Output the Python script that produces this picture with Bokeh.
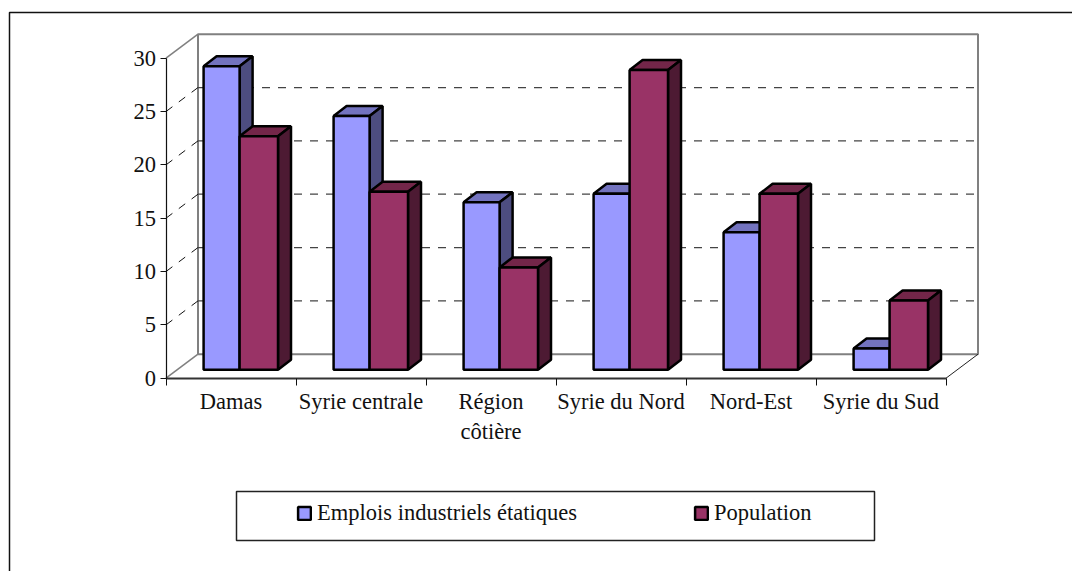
from bokeh.plotting import figure
from bokeh.models import (BoxAnnotation, ColumnDataSource, FixedTicker, Legend, LegendItem, LinearAxis, Range1d)
from bokeh.embed import file_html
from bokeh.resources import INLINE

categories = ["Damas", "Syrie centrale", "Région\ncôtière", "Syrie du Nord", "Nord-Est", "Syrie du Sud"]
emplois = [28.45, 23.8, 15.7, 16.5, 12.9, 2.0]
population = [21.9, 16.7, 9.6, 28.1, 16.5, 6.5]
y_ticks = [0, 5, 10, 15, 20, 25, 30]
series_names = ["Emplois industriels étatiques", "Population"]

# scale: pixels per unit
PX_X = 130.0
PX_Y = 320.0 / 30
WALL_DX = 32 / PX_X
WALL_DY = 24 / PX_Y
BAR_DX = 13 / PX_X
BAR_DY = 10 / PX_Y
BAR_X0 = 37.6 / PX_X
BAR_W1 = 36.0 / PX_X
BAR_W2 = 38.4 / PX_X
BASE_Y = 8.4 / PX_Y

W, H = 1072, 571
ORIGIN_X, ORIGIN_Y = 165.5, 377.7   # canvas position of the front axes' corner
n = len(categories)

p = figure(width=W, height=H, output_backend="svg", toolbar_location=None,
           min_border_left=0, min_border_bottom=0, min_border_top=0, min_border_right=0,
           x_axis_type=None, y_axis_type=None,
           x_range=Range1d(-ORIGIN_X / PX_X, (W - ORIGIN_X) / PX_X),
           y_range=Range1d(-(H - ORIGIN_Y) / PX_Y, ORIGIN_Y / PX_Y))
p.grid.visible = False
p.outline_line_color = None
p.background_fill_color = "white"
p.border_fill_color = "white"

FONT = "Liberation Serif"
FS = "22.5px"

# outer chart border, running off the page on the right and bottom
p.add_layout(BoxAnnotation(left=9, right=W + 20, top=12, bottom=H + 20,
                           left_units="canvas", right_units="canvas", top_units="canvas", bottom_units="canvas",
                           fill_color=None, line_color="#111111", line_alpha=1, line_width=1.5))

# back wall + floor outlines
wall_x = [WALL_DX, WALL_DX, n + WALL_DX, n + WALL_DX]
wall_y = [WALL_DY, 30 + WALL_DY, 30 + WALL_DY, WALL_DY]
p.line(wall_x + [wall_x[0]], wall_y + [wall_y[0]], line_color="#808080", line_width=2)
p.line([0, WALL_DX], [0, WALL_DY], line_color="#808080", line_width=1.5)
p.line([0, WALL_DX], [30, 30 + WALL_DY], line_color="#808080", line_width=1.5)
p.line([n, n + WALL_DX], [0, WALL_DY], line_color="#222222", line_width=1)

# dashed gridlines on back and side wall
for t in y_ticks[1:-1]:
    p.line([WALL_DX, n + WALL_DX], [t + WALL_DY, t + WALL_DY], line_color="#444444", line_width=1.3, line_dash="8 8")
    p.line([0, WALL_DX], [t, t + WALL_DY], line_color="#111111", line_width=1, line_dash="8 8")

def bars(values, x_off, width, front, top, side):
    x0 = [i + x_off for i in range(n)]
    x1 = [x + width for x in x0]
    y0 = [BASE_Y] * n
    y1 = [v + BASE_Y for v in values]
    p.patches([[a, a + BAR_DX, b + BAR_DX, b] for a, b in zip(x0, x1)],
              [[t, t + BAR_DY, t + BAR_DY, t] for t in y1],
              fill_color=top, line_color="black", line_width=2.5)
    p.patches([[b, b + BAR_DX, b + BAR_DX, b] for b in x1],
              [[s, s + BAR_DY, t + BAR_DY, t] for s, t in zip(y0, y1)],
              fill_color=side, line_color="black", line_width=2.5)
    src = ColumnDataSource(dict(left=x0, right=x1, bottom=y0, top=y1))
    return p.quad(left="left", right="right", bottom="bottom", top="top", source=src,
                  fill_color=front, line_color="black", line_width=2.5)

r1 = bars(emplois, BAR_X0, BAR_W1, "#9999FF", "#7373BF", "#4D4D80")
r2 = bars(population, BAR_X0 + BAR_W1, BAR_W2, "#993366", "#732649", "#4D1A33")

# axes
ya = LinearAxis(ticker=FixedTicker(ticks=y_ticks), bounds=(0, 30), fixed_location=0)
ya.axis_line_color = "#111111"
ya.axis_line_width = 1.2
ya.major_tick_line_color = "#111111"
ya.major_tick_in = 0
ya.major_tick_out = 6
ya.minor_tick_line_color = None
ya.major_label_text_font = FONT
ya.major_label_text_font_size = FS
ya.major_label_text_color = "#111111"
ya.major_label_standoff = 4
p.add_layout(ya, "left")

centers = [i + 0.5 for i in range(n)]
xa = LinearAxis(ticker=FixedTicker(ticks=centers, minor_ticks=list(range(n + 1))), bounds=(0, n), fixed_location=0)
xa.major_label_overrides = dict(zip(centers, categories))
xa.axis_line_color = "#333333"
xa.axis_line_width = 2
xa.major_tick_line_color = None
xa.minor_tick_line_color = "#111111"
xa.minor_tick_in = 0
xa.minor_tick_out = 7
xa.major_label_text_font = FONT
xa.major_label_text_font_size = FS
xa.major_label_text_color = "#111111"
xa.major_label_standoff = 4
p.add_layout(xa, "below")

# legend frame and the legend itself
p.add_layout(BoxAnnotation(left=236, right=874, top=491, bottom=540,
                           left_units="canvas", right_units="canvas", top_units="canvas", bottom_units="canvas",
                           fill_color="white", line_color="#222222", line_alpha=1, line_width=1.5))
legend = Legend(items=[LegendItem(label=series_names[0], renderers=[r1]),
                       LegendItem(label=series_names[1], renderers=[r2])],
                orientation="horizontal", location=(296, 45),
                padding=12, margin=0, spacing=116, glyph_width=16, glyph_height=16,
                label_standoff=5, border_line_color=None, background_fill_color=None, background_fill_alpha=0,
                label_text_font=FONT, label_text_font_size=FS, label_text_color="#111111")
p.add_layout(legend, "center")

open("out.html", "w").write(file_html(p, INLINE))
